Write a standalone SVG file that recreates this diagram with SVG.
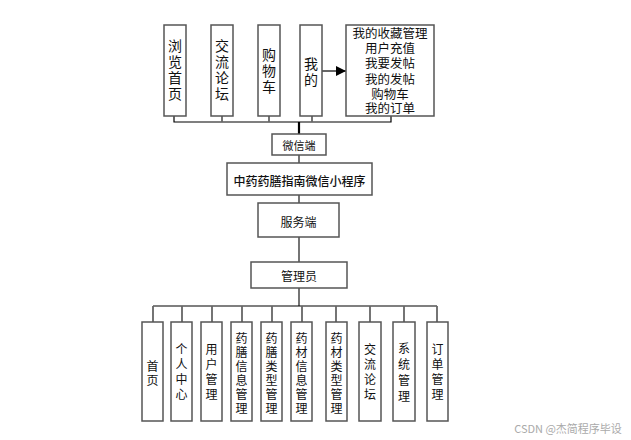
<svg xmlns="http://www.w3.org/2000/svg" width="631" height="440" viewBox="0 0 631 440">
<defs>
<style>
.bx{fill:#fff;stroke:#555;stroke-width:1.5}
.t{font-family:"Noto Sans CJK SC","Noto Sans",sans-serif;fill:#111;text-anchor:middle;dominant-baseline:central}
.t14{font-size:14px}
.t13{font-size:12.5px}
.t12{font-size:12px}
.t11{font-size:11px}
.ln{fill:none;stroke:#000;stroke-width:1.2}
.lg{fill:none;stroke:#666;stroke-width:1.8}
</style>
<marker id="ah" viewBox="0 0 10 10" refX="10" refY="5" markerWidth="10" markerHeight="10" markerUnits="userSpaceOnUse" orient="auto">
<path d="M0,0 L10,5 L0,10 Z" fill="#000"/>
</marker>
</defs>
<rect width="631" height="440" fill="#fff"/>
<g id="connectors">
<path class="ln" d="M174,116 V122 H391 V116"/>
<path class="lg" d="M222,116 V122 M269,116 V122 M312,116 V122"/>
<path d="M299,122 V134" stroke="#000" stroke-width="2.2" fill="none"/>
<path class="ln" d="M322,71 H346" marker-end="url(#ah)"/>
<path class="lg" d="M299,155 V163 M299,195 V203 M299,237 V262 M299,288 V306"/>
<path class="ln" d="M153,306 H437"/>
<path class="lg" d="M153,306 V322 M182,306 V322 M212,306 V322 M242,306 V322 M272,306 V322 M302,306 V322 M336,306 V322 M370,306 V322 M404,306 V322 M437,306 V322"/>
</g>
<g id="n-browse"><rect class="bx" x="164" y="25" width="22" height="91"/>
<text class="t t14"><tspan x="175" y="45">浏</tspan><tspan x="175" y="61">览</tspan><tspan x="175" y="77">首</tspan><tspan x="175" y="93">页</tspan></text></g>
<g id="n-forum"><rect class="bx" x="211" y="25" width="22" height="91"/>
<text class="t t14"><tspan x="222" y="45">交</tspan><tspan x="222" y="61">流</tspan><tspan x="222" y="77">论</tspan><tspan x="222" y="93">坛</tspan></text></g>
<g id="n-cart"><rect class="bx" x="258" y="25" width="22" height="91"/>
<text class="t t14"><tspan x="269" y="54">购</tspan><tspan x="269" y="70">物</tspan><tspan x="269" y="86">车</tspan></text></g>
<g id="n-mine"><rect class="bx" x="300" y="25" width="22" height="91"/>
<text class="t t14"><tspan x="311" y="63">我</tspan><tspan x="311" y="79">的</tspan></text></g>
<g id="n-minelist"><rect class="bx" x="346" y="25" width="88" height="91"/>
<text class="t t13"><tspan x="390" y="32">我的收藏管理</tspan><tspan x="390" y="47">用户充值</tspan><tspan x="390" y="62">我要发帖</tspan><tspan x="390" y="78">我的发帖</tspan><tspan x="390" y="93">购物车</tspan><tspan x="390" y="107">我的订单</tspan></text></g>
<g id="n-wechat"><rect class="bx" x="272" y="134" width="54" height="21"/>
<text class="t t11" x="299" y="144.5">微信端</text></g>
<g id="n-app"><rect class="bx" x="227" y="163" width="145" height="32"/>
<text class="t t12" x="299.5" y="180" font-weight="500">中药药膳指南微信小程序</text></g>
<g id="n-server"><rect class="bx" x="258" y="203" width="81" height="34"/>
<text class="t t12" x="298.5" y="221">服务端</text></g>
<g id="n-admin"><rect class="bx" x="251" y="262" width="96" height="26"/>
<text class="t t12" x="299" y="275">管理员</text></g>
<g id="n-home"><rect class="bx" x="142" y="322" width="21" height="99"/>
<text class="t t12"><tspan x="152.5" y="365">首</tspan><tspan x="152.5" y="379">页</tspan></text></g>
<g id="n-personal"><rect class="bx" x="171" y="322" width="21" height="99"/>
<text class="t t12"><tspan x="181.5" y="348">个</tspan><tspan x="181.5" y="363">人</tspan><tspan x="181.5" y="378">中</tspan><tspan x="181.5" y="393">心</tspan></text></g>
<g id="n-user"><rect class="bx" x="201" y="322" width="21" height="99"/>
<text class="t t12"><tspan x="211.5" y="348">用</tspan><tspan x="211.5" y="363">户</tspan><tspan x="211.5" y="378">管</tspan><tspan x="211.5" y="393">理</tspan></text></g>
<g id="n-dietinfo"><rect class="bx" x="231" y="322" width="21" height="99"/>
<text class="t t12"><tspan x="241.5" y="337">药</tspan><tspan x="241.5" y="351">膳</tspan><tspan x="241.5" y="365">信</tspan><tspan x="241.5" y="379">息</tspan><tspan x="241.5" y="393">管</tspan><tspan x="241.5" y="407">理</tspan></text></g>
<g id="n-diettype"><rect class="bx" x="261" y="322" width="21" height="99"/>
<text class="t t12"><tspan x="271.5" y="337">药</tspan><tspan x="271.5" y="351">膳</tspan><tspan x="271.5" y="365">类</tspan><tspan x="271.5" y="379">型</tspan><tspan x="271.5" y="393">管</tspan><tspan x="271.5" y="407">理</tspan></text></g>
<g id="n-herbinfo"><rect class="bx" x="291" y="322" width="21" height="99"/>
<text class="t t12"><tspan x="301.5" y="337">药</tspan><tspan x="301.5" y="351">材</tspan><tspan x="301.5" y="365">信</tspan><tspan x="301.5" y="379">息</tspan><tspan x="301.5" y="393">管</tspan><tspan x="301.5" y="407">理</tspan></text></g>
<g id="n-herbtype"><rect class="bx" x="326" y="322" width="21" height="99"/>
<text class="t t12"><tspan x="336.5" y="337">药</tspan><tspan x="336.5" y="351">材</tspan><tspan x="336.5" y="365">类</tspan><tspan x="336.5" y="379">型</tspan><tspan x="336.5" y="393">管</tspan><tspan x="336.5" y="407">理</tspan></text></g>
<g id="n-forum2"><rect class="bx" x="359" y="322" width="22" height="99"/>
<text class="t t12"><tspan x="370" y="348">交</tspan><tspan x="370" y="363">流</tspan><tspan x="370" y="378">论</tspan><tspan x="370" y="393">坛</tspan></text></g>
<g id="n-system"><rect class="bx" x="393" y="322" width="22" height="99"/>
<text class="t t12"><tspan x="404" y="347">系</tspan><tspan x="404" y="363">统</tspan><tspan x="404" y="379">管</tspan><tspan x="404" y="395">理</tspan></text></g>
<g id="n-order"><rect class="bx" x="427" y="322" width="21" height="99"/>
<text class="t t12"><tspan x="437.5" y="348">订</tspan><tspan x="437.5" y="363">单</tspan><tspan x="437.5" y="378">管</tspan><tspan x="437.5" y="393">理</tspan></text></g>
<text x="568" y="428" font-family="'Noto Sans CJK SC','Noto Sans',sans-serif" font-size="11" fill="#aaa" text-anchor="middle" dominant-baseline="central">CSDN @杰简程序毕设</text>
</svg>
